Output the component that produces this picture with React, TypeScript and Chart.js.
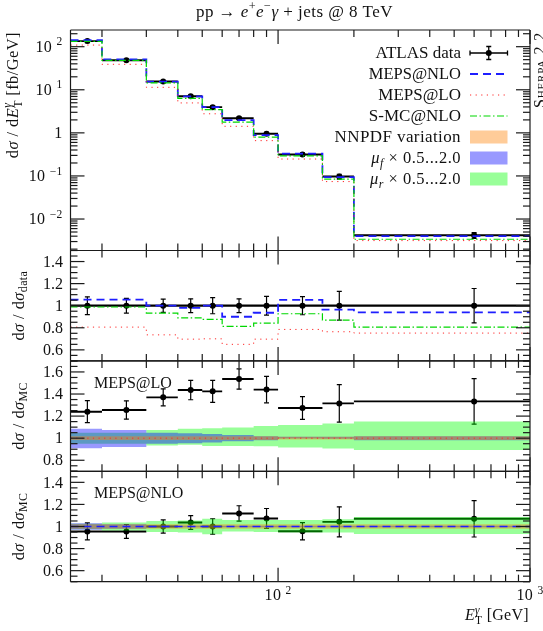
import React, { useEffect, useRef } from "react";
import { Chart, registerables } from "chart.js";

Chart.register(...registerables);

const FONT = '"Liberation Serif"';

const binEdges = [15, 20, 30, 40, 50, 60, 80, 100, 150, 200, 1000];
const binCentres = [17.5, 25, 35, 45, 55, 70, 90, 125, 175, 600];

const dataValues = [135, 48.6, 15.5, 7.1, 3.95, 2.19, 0.95, 0.314, 0.097, 0.0042];
const nloValues = [142, 51, 15.5, 7.0, 3.95, 1.97, 0.89, 0.33, 0.094, 0.004];
const loValues = [109, 39, 11.4, 4.95, 2.77, 1.42, 0.66, 0.247, 0.074, 0.00316];
const smcValues = [133, 48, 14.5, 6.3, 3.46, 1.78, 0.8, 0.291, 0.0844, 0.00339];

const unity = [1, 1, 1, 1, 1, 1, 1, 1, 1, 1];
const relErr = [0.08, 0.067, 0.06, 0.062, 0.073, 0.062, 0.085, 0.082, 0.13, 0.156];
const nloOverData = [1.055, 1.055, 1.0, 0.98, 1.0, 0.9, 0.936, 1.052, 0.964, 0.94];
const loOverData = [0.806, 0.806, 0.736, 0.697, 0.7, 0.65, 0.697, 0.785, 0.764, 0.752];
const smcOverData = [0.988, 0.988, 0.933, 0.89, 0.876, 0.812, 0.842, 0.927, 0.87, 0.806];

const dataOverLo = [1.24, 1.255, 1.37, 1.436, 1.424, 1.536, 1.44, 1.273, 1.315, 1.333];
const dataOverLoErr = [0.1, 0.083, 0.077, 0.088, 0.1, 0.092, 0.12, 0.103, 0.17, 0.206];
const dataOverNlo = [0.955, 0.955, 1.0, 1.036, 1.0, 1.118, 1.073, 0.957, 1.042, 1.07];
const dataOverNloErr = [0.077, 0.063, 0.06, 0.062, 0.07, 0.07, 0.09, 0.079, 0.136, 0.165];

const loMurUp = [0.05, 0.05, 0.073, 0.085, 0.09, 0.097, 0.11, 0.12, 0.133, 0.15];
const loMurDn = [0.05, 0.05, 0.067, 0.06, 0.07, 0.07, 0.073, 0.085, 0.094, 0.106];
const loMufUp = [0.085, 0.073, 0.05, 0.044, 0.038, 0.028, 0.018, 0.012, 0.012, 0.018];
const loMufDn = [0.091, 0.079, 0.05, 0.046, 0.038, 0.028, 0.018, 0.004, 0.005, 0.018];
const loPdf = [0.017, 0.017, 0.017, 0.017, 0.017, 0.017, 0.017, 0.012, 0.012, 0.017];

const nloMurUp = [0.025, 0.036, 0.05, 0.055, 0.07, 0.06, 0.06, 0.06, 0.066, 0.085];
const nloMurDn = [0.025, 0.036, 0.05, 0.055, 0.07, 0.045, 0.05, 0.055, 0.055, 0.067];
const nloMufUp = [0.03, 0.02, 0.01, 0.006, 0.006, 0.006, 0.006, 0.006, 0.006, 0.006];
const nloMufDn = [0.03, 0.02, 0.01, 0.006, 0.006, 0.006, 0.006, 0.006, 0.006, 0.006];
const nloPdf = [0.02, 0.02, 0.02, 0.02, 0.02, 0.02, 0.02, 0.02, 0.02, 0.02];

const xMinorTicks = [20, 30, 40, 50, 60, 70, 80, 90, 200, 300, 400, 500, 600, 700, 800, 900];
const xMajorTicks = [100, 1000];
const xExponents = ["2", "3"];
const logMajorTicks = [0.01, 0.1, 1, 10, 100];
const logExponents = ["−2", "−1", "", "1", "2"];
const logMinorTicks = [
  0.002, 0.003, 0.004, 0.005, 0.006, 0.007, 0.008, 0.009,
  0.02, 0.03, 0.04, 0.05, 0.06, 0.07, 0.08, 0.09,
  0.2, 0.3, 0.4, 0.5, 0.6, 0.7, 0.8, 0.9,
  2, 3, 4, 5, 6, 7, 8, 9,
  20, 30, 40, 50, 60, 70, 80, 90, 200,
];
const ratioMajorA = [0.6, 0.8, 1, 1.2, 1.4];
const ratioMinorA = [0.5, 0.55, 0.65, 0.7, 0.75, 0.85, 0.9, 0.95, 1.05, 1.1, 1.15, 1.25, 1.3, 1.35, 1.45, 1.5];
const ratioMajorB = [0.8, 1, 1.2, 1.4, 1.6];
const ratioMinorB = [0.7, 0.75, 0.85, 0.9, 0.95, 1.05, 1.1, 1.15, 1.25, 1.3, 1.35, 1.45, 1.5, 1.55, 1.65, 1.7];

const legendRows = ["ATLAS data", "MEPS@NLO", "MEPS@LO", "S-MC@NLO", "NNPDF variation"];

const BLUE = "rgb(30,30,255)";
const RED = "rgb(255,40,40)";
const GREEN = "rgb(0,215,0)";
const BAND_ORANGE = "rgba(255,127,0,0.4)";
const BAND_BLUE = "rgba(0,0,255,0.4)";
const BAND_GREEN = "rgba(0,255,0,0.4)";
const DASH = [8, 5];
const DOT = [1.2, 4.4];
const DASHDOT = [7, 2.5, 1.5, 2.5];

const steps = (vals: number[]) =>
  vals.flatMap((v, i) => [
    { x: binEdges[i], y: v },
    { x: binEdges[i + 1], y: v },
  ]);

const offsetSteps = (centre: number[], delta: number[], sign: number) =>
  steps(centre.map((c, i) => c + sign * delta[i]));

function lineDs(axis: string, vals: number[], color: string, dash: number[], width: number, order: number) {
  return {
    yAxisID: axis,
    data: steps(vals),
    borderColor: color,
    borderDash: dash,
    borderWidth: width,
    pointRadius: 0,
    fill: false,
    order,
  };
}

function bandDs(axis: string, up: number[], dn: number[], color: string, order: number) {
  const base = { yAxisID: axis, borderWidth: 0, borderColor: "transparent", pointRadius: 0, order };
  return [
    { ...base, data: offsetSteps(unity, up, 1), fill: "+1", backgroundColor: color },
    { ...base, data: offsetSteps(unity, dn, -1), fill: false },
  ];
}

function dataDs(axis: string, vals: number[], lo: number[], hi: number[], order: number, barWidth = 1.9) {
  const base = { yAxisID: axis, fill: false, order };
  const hbars = vals.flatMap((v, i) => [
    { x: binEdges[i], y: v },
    { x: binEdges[i + 1], y: v },
    { x: binEdges[i + 1], y: NaN },
  ]);
  const vbars = vals.flatMap((_, i) => [
    { x: binCentres[i], y: lo[i] },
    { x: binCentres[i], y: hi[i] },
    { x: binCentres[i], y: NaN },
  ]);
  const caps = vals.flatMap((_, i) => [
    { x: binCentres[i], y: lo[i] },
    { x: binCentres[i], y: hi[i] },
  ]);
  const pts = vals.map((v, i) => ({ x: binCentres[i], y: v }));
  return [
    { ...base, data: hbars, borderColor: "#000", borderWidth: barWidth, pointRadius: 0, spanGaps: false },
    { ...base, data: vbars, borderColor: "#000", borderWidth: 1.2, pointRadius: 0, spanGaps: false },
    { ...base, data: caps, showLine: false, pointStyle: "line", pointRadius: 2.5, pointBorderWidth: 1.2, pointBorderColor: "#000", pointBackgroundColor: "#000" },
    { ...base, data: pts, showLine: false, pointStyle: "circle", pointRadius: 3, pointBorderWidth: 0, pointBackgroundColor: "#000" },
  ];
}

type Seg = { t: string; i?: boolean; s?: "sub" | "sup"; o?: boolean };

function drawRich(
  ctx: CanvasRenderingContext2D,
  segs: Seg[],
  x: number,
  y: number,
  size: number,
  align: "left" | "center" | "right",
  rot = 0,
  spacing = 0,
) {
  const fontOf = (s: Seg) => `${s.i ? "italic " : ""}${s.s ? size * 0.72 : size}px ${FONT}`;
  ctx.save();
  (ctx as any).letterSpacing = `${spacing}px`;
  const advances = segs.map((s) => {
    ctx.font = fontOf(s);
    return ctx.measureText(s.t).width;
  });
  let total = 0;
  let carry = 0;
  segs.forEach((s, k) => {
    if (s.o) carry = advances[k];
    else {
      total += Math.max(carry, advances[k]);
      carry = 0;
    }
  });
  ctx.translate(x, y);
  ctx.rotate(rot);
  ctx.fillStyle = "#111";
  ctx.textBaseline = "alphabetic";
  ctx.textAlign = "left";
  let cx = align === "left" ? 0 : align === "center" ? -total / 2 : -total;
  carry = 0;
  segs.forEach((s, k) => {
    ctx.font = fontOf(s);
    const dy = s.s === "sub" ? size * 0.24 : s.s === "sup" ? -size * 0.4 : 0;
    ctx.fillText(s.t, cx, dy);
    if (s.o) carry = advances[k];
    else {
      cx += Math.max(carry, advances[k]);
      carry = 0;
    }
  });
  ctx.restore();
}

const powerSegs = (e: string): Seg[] => (e === "" ? [{ t: "1" }] : [{ t: "10 " }, { t: e, s: "sup" }]);

const annotatePlugin = {
  id: "annotate",
  afterDatasetsDraw(chart: any) {
    const { ctx, chartArea: a, scales } = chart;
    const panels = [
      { s: scales.main, maj: logMajorTicks, min: logMinorTicks },
      { s: scales.r1, maj: ratioMajorA, min: ratioMinorA },
      { s: scales.r2, maj: ratioMajorB, min: ratioMinorB },
      { s: scales.r3, maj: ratioMajorA, min: ratioMinorA },
    ];
    const x = scales.x;
    ctx.save();
    ctx.strokeStyle = "#1a1a1a";
    ctx.lineWidth = 1.2;
    const seg = (x0: number, y0: number, x1: number, y1: number) => {
      ctx.beginPath();
      ctx.moveTo(x0, y0);
      ctx.lineTo(x1, y1);
      ctx.stroke();
    };
    for (const p of panels) {
      const t = p.s.top;
      const b = p.s.bottom;
      seg(a.left, t, a.right, t);
      seg(a.left, b, a.right, b);
      seg(a.left, t, a.left, b);
      seg(a.right, t, a.right, b);
      for (const v of xMinorTicks) {
        const px = x.getPixelForValue(v);
        seg(px, t, px, t + 7);
        seg(px, b, px, b - 7);
      }
      for (const v of xMajorTicks) {
        const px = x.getPixelForValue(v);
        seg(px, t, px, t + 14);
        seg(px, b, px, b - 14);
      }
      for (const v of p.min) {
        const py = p.s.getPixelForValue(v);
        seg(a.left, py, a.left + 7, py);
        seg(a.right, py, a.right - 7, py);
      }
      for (const v of p.maj) {
        const py = p.s.getPixelForValue(v);
        seg(a.left, py, a.left + 14, py);
        seg(a.right, py, a.right - 14, py);
      }
    }
    ctx.restore();

    logMajorTicks.forEach((v, i) => {
      drawRich(ctx, powerSegs(logExponents[i]), 62.5, scales.main.getPixelForValue(v) + 5, 16, "right", 0, 0.3);
    });
    xMajorTicks.forEach((v, i) => {
      drawRich(ctx, powerSegs(xExponents[i]), x.getPixelForValue(v), 600, 16, "center", 0, 0.3);
    });

    const R = -Math.PI / 2;
    drawRich(ctx, [
      { t: "pp → " }, { t: "e", i: true }, { t: "+", s: "sup" }, { t: "e", i: true }, { t: "−", s: "sup" },
      { t: "γ", i: true }, { t: " + jets @ 8 TeV" },
    ], 294.5, 17, 17, "center", 0, 0.45);
    drawRich(ctx, [
      { t: "d" }, { t: "σ", i: true }, { t: " / d" }, { t: "E", i: true }, { t: "T", s: "sub", o: true }, { t: "γ", i: true, s: "sup" },
      { t: " [fb/GeV]" },
    ], 18, 32, 16.5, "right", R, 0.4);
    const ratioLabel = (sub: string): Seg[] => [{ t: "d" }, { t: "σ", i: true }, { t: " / d" }, { t: "σ", i: true }, { t: sub, s: "sub" }];
    drawRich(ctx, ratioLabel("data"), 23.5, 305.7, 16.5, "center", R, 0.4);
    drawRich(ctx, ratioLabel("MC"), 23.5, 416, 16.5, "center", R, 0.4);
    drawRich(ctx, ratioLabel("MC"), 23.5, 526.5, 16.5, "center", R, 0.4);
    drawRich(ctx, [{ t: "E", i: true }, { t: "T", s: "sub", o: true }, { t: "γ", i: true, s: "sup" }, { t: " [GeV]" }], 529, 620, 16, "right", 0, 0.3);
    drawRich(ctx, [{ t: "MEPS@LO" }], 94, 388, 16, "left");
    drawRich(ctx, [{ t: "MEPS@NLO" }], 94, 498, 16, "left");

    ctx.save();
    ctx.translate(545, 32);
    ctx.rotate(R);
    (ctx as any).letterSpacing = "0.8px";
    ctx.font = `small-caps 16px ${FONT}`;
    ctx.textAlign = "right";
    ctx.fillStyle = "#111";
    ctx.fillText("Sherpa 2.2", 0, 0);
    ctx.restore();

    const textX = 461;
    const sx0 = 470;
    const sx1 = 507.5;
    const rowY = (i: number) => 53 + 21 * i;
    legendRows.forEach((t, i) => drawRich(ctx, [{ t }], textX, rowY(i) + 5, i === 1 ? 16.5 : 17, "right", 0, i === 4 ? 0.4 : 0));
    drawRich(ctx, [{ t: "μ", i: true }, { t: "f", i: true, s: "sub" }, { t: " × 0.5...2.0" }], textX, rowY(5) + 5, 16.5, "right", 0, 0.5);
    drawRich(ctx, [{ t: "μ", i: true }, { t: "r", i: true, s: "sub" }, { t: " × 0.5...2.0" }], textX, rowY(6) + 5, 16.5, "right", 0, 0.5);

    ctx.save();
    ctx.strokeStyle = "#000";
    ctx.lineWidth = 1.3;
    const y0 = rowY(0);
    const mid = (sx0 + sx1) / 2;
    ctx.beginPath();
    ctx.moveTo(sx0, y0);
    ctx.lineTo(sx1, y0);
    ctx.moveTo(mid, y0 - 6.5);
    ctx.lineTo(mid, y0 + 6.5);
    ctx.moveTo(mid - 2.5, y0 - 6.5);
    ctx.lineTo(mid + 2.5, y0 - 6.5);
    ctx.moveTo(mid - 2.5, y0 + 6.5);
    ctx.lineTo(mid + 2.5, y0 + 6.5);
    ctx.moveTo(sx0, y0 - 2.5);
    ctx.lineTo(sx0, y0 + 2.5);
    ctx.moveTo(sx1, y0 - 2.5);
    ctx.lineTo(sx1, y0 + 2.5);
    ctx.stroke();
    ctx.fillStyle = "#000";
    ctx.beginPath();
    ctx.arc(mid, y0, 3, 0, Math.PI * 2);
    ctx.fill();
    const styles: [string, number[], number, number][] = [
      [BLUE, DASH, 1.8, 1],
      [RED, DOT, 1, 2],
      [GREEN, DASHDOT, 1.2, 3],
    ];
    for (const [c, d, w, i] of styles) {
      ctx.strokeStyle = c;
      ctx.setLineDash(d);
      ctx.lineWidth = w;
      ctx.beginPath();
      ctx.moveTo(sx0, rowY(i));
      ctx.lineTo(sx1, rowY(i));
      ctx.stroke();
    }
    ctx.setLineDash([]);
    [BAND_ORANGE, BAND_BLUE, BAND_GREEN].forEach((c, j) => {
      ctx.fillStyle = c;
      ctx.fillRect(sx0, rowY(4 + j) - 6.5, sx1 - sx0, 13);
    });
    ctx.restore();
  },
};

export default function App() {
  const ref = useRef<HTMLCanvasElement>(null);
  useEffect(() => {
    const ax = (majors: number[], fmt: (v: number) => string) => ({
      position: "left",
      stack: "panels",
      grid: { display: false, drawTicks: false },
      border: { display: false },
      afterFit: (s: any) => { s.width = 70.5; },
      afterBuildTicks: (s: any) => { s.ticks = majors.map((value) => ({ value })); },
      ticks: {
        padding: 7.5,
        autoSkip: false,
        labelOffset: 1,
        color: "#111",
        font: { family: FONT, size: 16 },
        callback: (v: number) => fmt(Number(v)),
      },
    });
    const ratioFmt = (v: number) => String(Number(v.toFixed(1)));
    const lo = (vals: number[], err: number[]) => vals.map((v, i) => v - err[i]);
    const hi = (vals: number[], err: number[]) => vals.map((v, i) => v + err[i]);
    const mainErr = dataValues.map((v, i) => v * relErr[i]);

    const datasets: any[] = [
      ...dataDs("main", dataValues, lo(dataValues, mainErr), hi(dataValues, mainErr), 30),
      lineDs("main", nloValues, BLUE, DASH, 1.8, 12),
      lineDs("main", loValues, RED, DOT, 1, 11),
      lineDs("main", smcValues, GREEN, DASHDOT, 1.2, 10),

      ...dataDs("r1", unity, lo(unity, relErr), hi(unity, relErr), 30, 2.2),
      lineDs("r1", nloOverData, BLUE, DASH, 1.8, 12),
      lineDs("r1", loOverData, RED, DOT, 1, 11),
      lineDs("r1", smcOverData, GREEN, DASHDOT, 1.2, 10),

      ...dataDs("r2", dataOverLo, lo(dataOverLo, dataOverLoErr), hi(dataOverLo, dataOverLoErr), 30),
      ...bandDs("r2", loMurUp, loMurDn, BAND_GREEN, 22),
      ...bandDs("r2", loMufUp, loMufDn, BAND_BLUE, 21),
      ...bandDs("r2", loPdf, loPdf, BAND_ORANGE, 20),
      lineDs("r2", unity, RED, DOT, 1, 11),

      ...dataDs("r3", dataOverNlo, lo(dataOverNlo, dataOverNloErr), hi(dataOverNlo, dataOverNloErr), 30),
      ...bandDs("r3", nloMurUp, nloMurDn, BAND_GREEN, 22),
      ...bandDs("r3", nloMufUp, nloMufDn, BAND_BLUE, 21),
      ...bandDs("r3", nloPdf, nloPdf, BAND_ORANGE, 20),
      lineDs("r3", unity, BLUE, DASH, 1.6, 12),
    ];

    const chart = new Chart(ref.current as HTMLCanvasElement, {
      type: "line",
      data: { datasets },
      plugins: [annotatePlugin],
      options: {
        animation: false,
        responsive: false,
        devicePixelRatio: 1,
        layout: { padding: { top: 30, right: 13, left: 0, bottom: 0 } },
        plugins: { legend: { display: false }, title: { display: false }, tooltip: { enabled: false } },
        elements: { line: { tension: 0 } },
        scales: {
          x: {
            type: "logarithmic",
            min: 15,
            max: 1000,
            grid: { display: false, drawTicks: false },
            border: { display: false },
            afterFit: (s: any) => { s.height = 49.3; },
            afterBuildTicks: (s: any) => { s.ticks = xMajorTicks.map((value) => ({ value })); },
            ticks: {
              autoSkip: false,
              maxRotation: 0,
              callback: () => "",
            },
          },
          main: {
            ...ax(logMajorTicks, () => ""),
            type: "logarithmic", min: 0.00186, max: 244, stackWeight: 220.5, weight: 4,
          },
          r1: { ...ax(ratioMajorA, ratioFmt), type: "linear", min: 0.5, max: 1.5, stackWeight: 110.4, weight: 3 },
          r2: { ...ax(ratioMajorB, ratioFmt), type: "linear", min: 0.7, max: 1.7, stackWeight: 110.4, weight: 2 },
          r3: { ...ax(ratioMajorA, ratioFmt), type: "linear", min: 0.5, max: 1.5, stackWeight: 110.4, weight: 1 },
        } as any,
      } as any,
    } as any);
    return () => chart.destroy();
  }, []);
  return (
    <canvas
      ref={ref}
      width={543}
      height={631}
      style={{ position: "fixed", left: 0, top: 0, width: 543, height: 631, display: "block", background: "#fff" }}
    />
  );
}
